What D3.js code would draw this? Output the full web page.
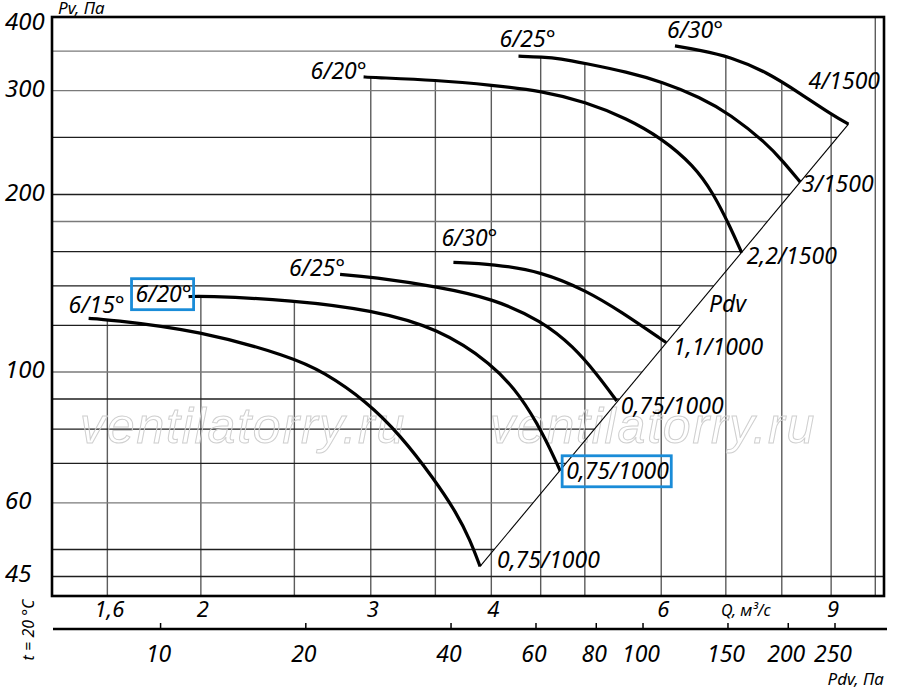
<!DOCTYPE html>
<html lang="ru">
<head>
<meta charset="UTF-8">
<title>Pv(Q)</title>
<style>
  body { margin: 0; background: #fff; }
  svg text { font-family: "Noto Sans", "Open Sans", sans-serif; font-style: italic; fill: #000; }
</style>
</head>
<body>
<svg id="svg" width="900" height="694"></svg>
<script src="https://d3js.org/d3.v7.min.js"></script>
<script>
  // blade setting at curve start, motor kW/rpm at curve end
  const bladeAngles = ["6/15°", "6/20°", "6/25°", "6/30°", "6/20°", "6/25°", "6/30°"]
  const motors = ["0,75/1000", "0,75/1000", "0,75/1000", "1,1/1000", "2,2/1500", "3/1500", "4/1500"]

  // Q, m3/s
  const curveQ = [
    [1.53, 1.6, 2.0, 2.474, 2.68, 2.972, 3.218, 3.484, 3.684, 3.802, 3.894],
    [1.942, 2.0, 2.494, 3.008, 3.524, 4.01, 4.284, 4.53, 4.714],
    [2.788, 3.008, 3.524, 4.018, 4.516, 4.866, 5.146, 5.396],
    [3.654, 4.02, 4.512, 5.024, 5.438, 6.07],
    [2.949, 3.008, 3.51, 4.01, 4.518, 5.004, 5.528, 6.01, 6.48, 6.796, 7.072, 7.27],
    [4.268, 4.518, 4.714, 5.004, 5.528, 6.01, 6.584, 7.072, 7.718, 8.03, 8.357],
    [6.2, 6.584, 7.072, 7.718, 8.357, 9.048, 9.38]
  ]
  // Pv, Pa
  const curvePv = [
    [123.3, 122.8, 117.5, 106.2, 100.1, 89.1, 78.2, 66.1, 57.6, 51.9, 46.8],
    [134.2, 134.7, 132.4, 127.4, 118.7, 103.2, 91.4, 78.5, 68.0],
    [146.4, 145.0, 139.5, 133.2, 122.0, 110.4, 99.2, 89.3],
    [153.4, 152.4, 148.0, 137.2, 126.9, 112.2],
    [316.6, 315.9, 312.6, 306.5, 299.5, 287.2, 269.2, 248.9, 224.3, 200.9, 176.3, 159.3],
    [343.3, 342.2, 340.2, 333.6, 322.8, 310.5, 292.5, 273.7, 244.1, 227.2, 210.1],
    [357.3, 351.4, 342.5, 322.8, 296.8, 272.1, 263.3]
  ]
  const boxedCurve = 1

  // dynamic pressure line Pdv
  const pdvLineQ = [3.894, 9.38]
  const pdvLinePv = [46.8, 263.3]
  const pdvPerQ2 = 3.03

  const qGrid = [1.6, 2, 2.5, 3, 3.5, 4, 4.5, 5, 6, 7, 8, 9, 10]
  const qLabels = [1.6, 2, 3, 4, 6, 9]
  const pvGrid = [45, 50, 60, 70, 80, 90, 100, 120, 140, 160, 180, 200, 250, 300, 350]
  const pvLabels = [45, 60, 100, 200, 300, 400]
  const pdvTicks = [10, 20, 40, 60, 80, 100, 150, 200, 250]

  const svg = d3.select("#svg")

  const x = d3.scaleLog().domain([1.402, 10.21]).range([52, 884])
  const y = d3.scaleLog().domain([41.7, 400]).range([596, 17])
  const xPdv = d3.scaleLog()
    .domain(x.domain().map(q => pdvPerQ2 * q * q))
    .range(x.range())

  const comma = v => String(v).replace(".", ",")

  // log-log interpolation along a polyline, null when outside
  function interp(xs, ys, v) {
    for (let i = 0; i < xs.length - 1; i++) {
      const a = xs[i], b = xs[i + 1]
      if ((v - a) * (v - b) <= 0 && a !== b) {
        const t = Math.log(v / a) / Math.log(b / a)
        return Math.exp(Math.log(ys[i]) + t * Math.log(ys[i + 1] / ys[i]))
      }
    }
    return null
  }

  // outer edge: last (6/30) curve, then down the Pdv line
  const last = curveQ.length - 1
  const edgeQ = curveQ[last].concat([pdvLineQ[0]])
  const edgePv = curvePv[last].concat([pdvLinePv[0]])

  const grid = svg.append("g")

  grid.selectAll("line.v")
    .data(qGrid)
    .join("line")
    .attr("x1", d => x(d))
    .attr("x2", d => x(d))
    .attr("y1", y.range()[0])
    .attr("y2", d => {
      const hits = curveQ.map((qs, i) => interp(qs, curvePv[i], d)).filter(v => v !== null)
      return hits.length ? y(d3.max(hits)) : y.range()[1]
    })
    .attr("stroke", "#5c5c5c")
    .attr("stroke-width", 1.4)

  const lightRows = [60, 100, 180, 300, 350]
  grid.selectAll("line.h")
    .data(pvGrid)
    .join("line")
    .attr("x1", x.range()[0])
    .attr("x2", d => {
      const q = interp(edgePv, edgeQ, d)
      return q === null ? x.range()[1] : x(q)
    })
    .attr("y1", d => y(d))
    .attr("y2", d => y(d))
    .attr("stroke", d => lightRows.includes(d) ? "#7a7a7a" : "#1e1e1e")
    .attr("stroke-width", 1.3)

  // watermark
  svg.selectAll("text.wm")
    .data([80, 490])
    .join("text")
    .attr("x", d => d)
    .attr("y", 443)
    .style("font-family", "'Liberation Sans', Arial, sans-serif")
    .style("font-size", "50px")
    .style("letter-spacing", "1.8px")
    .style("fill", "none")
    .style("stroke", "#cfcfcf")
    .style("stroke-width", 1)
    .text("ventilatorry.ru")

  // frame
  svg.append("rect")
    .attr("x", x.range()[0])
    .attr("y", y.range()[1])
    .attr("width", x.range()[1] - x.range()[0])
    .attr("height", y.range()[0] - y.range()[1])
    .attr("fill", "none")
    .attr("stroke", "#000")
    .attr("stroke-width", 2.6)

  // Pdv line
  svg.append("path")
    .attr("d", d3.line()(pdvLineQ.map((q, i) => [x(q), y(pdvLinePv[i])])))
    .attr("stroke", "#000")
    .attr("stroke-width", 1.1)
    .attr("fill", "none")

  const line = d3.line()
    .x(d => x(d[0]))
    .y(d => y(d[1]))
    .curve(d3.curveBasis)

  const curves = curveQ.map((qs, i) => qs.map((q, j) => [q, curvePv[i][j]]))

  svg.append("g")
    .selectAll("path")
    .data(curves)
    .join("path")
    .attr("d", line)
    .attr("fill", "none")
    .attr("stroke", "#000")
    .attr("stroke-width", 3.2)
    .attr("stroke-linecap", "butt")

  // label placement relative to curve start / end, px
  const startOff = [[-20, -5], [-53, 5], [-51, 2], [-12, -16], [-53, 2], [-19, -9], [-8, -8]]
  const endOff = [[17, 2], [6, 8], [4, 13], [7, 12], [5, 11], [2, 10], [-40, -35]]

  const labels = svg.append("g").style("font-size", "23px")
  curves.forEach((c, i) => {
    const s = c[0], e = c[c.length - 1]
    const t1 = labels.append("text")
      .attr("x", x(s[0]) + startOff[i][0])
      .attr("y", y(s[1]) + startOff[i][1])
      .text(bladeAngles[i])
    const t2 = labels.append("text")
      .attr("x", x(e[0]) + endOff[i][0])
      .attr("y", y(e[1]) + endOff[i][1])
      .text(motors[i])
    if (i === boxedCurve) {
      [t1, t2].forEach(t => {
        const b = t.node().getBBox()
        labels.append("rect")
          .attr("x", b.x - 4)
          .attr("y", b.y + 2)
          .attr("width", b.width + 6)
          .attr("height", b.height - 1)
          .attr("fill", "none")
          .attr("stroke", "#1a8cd8")
          .attr("stroke-width", 2.8)
      })
    }
  })

  // "Pdv" beside its line
  const pdvAt = 130
  const pdvQ = interp(pdvLinePv, pdvLineQ, pdvAt)
  labels.append("text")
    .attr("x", x(pdvQ) + 11)
    .attr("y", y(pdvAt) + 7)
    .text("Pdv")

  // Pv axis labels
  svg.append("g")
    .style("font-size", "24px")
    .selectAll("text")
    .data(pvLabels)
    .join("text")
    .attr("x", 5)
    .attr("y", d => Math.max(y(d) + 6, 30))
    .text(d => d)

  svg.append("text")
    .attr("x", 58)
    .attr("y", 14)
    .style("font-size", "17px")
    .text("Pv, Па")

  // Q labels under the frame
  svg.append("g")
    .style("font-size", "22px")
    .attr("text-anchor", "middle")
    .selectAll("text")
    .data(qLabels)
    .join("text")
    .attr("x", d => x(d) + 2)
    .attr("y", 617)
    .text(comma)

  svg.append("text")
    .attr("x", 721)
    .attr("y", 616)
    .style("font-size", "16px")
    .text("Q, м³/с")

  // Pdv axis
  const pdvY = 629
  svg.append("line")
    .attr("x1", 53).attr("x2", 887)
    .attr("y1", pdvY).attr("y2", pdvY)
    .attr("stroke", "#000")
    .attr("stroke-width", 2.6)

  svg.append("g")
    .selectAll("line")
    .data(pdvTicks)
    .join("line")
    .attr("x1", d => xPdv(d)).attr("x2", d => xPdv(d))
    .attr("y1", pdvY - 6).attr("y2", pdvY)
    .attr("stroke", "#000")
    .attr("stroke-width", 1.5)

  svg.append("g")
    .style("font-size", "23px")
    .attr("text-anchor", "middle")
    .selectAll("text")
    .data(pdvTicks)
    .join("text")
    .attr("x", d => xPdv(d) - 2)
    .attr("y", 662)
    .text(d => d)

  svg.append("text")
    .attr("x", 884)
    .attr("y", 685)
    .attr("text-anchor", "end")
    .style("font-size", "17px")
    .text("Pdv, Па")

  svg.append("text")
    .attr("transform", "translate(34,630) rotate(-90)")
    .attr("text-anchor", "middle")
    .style("font-size", "16px")
    .text("t = 20 °C")
</script>
</body>
</html>
